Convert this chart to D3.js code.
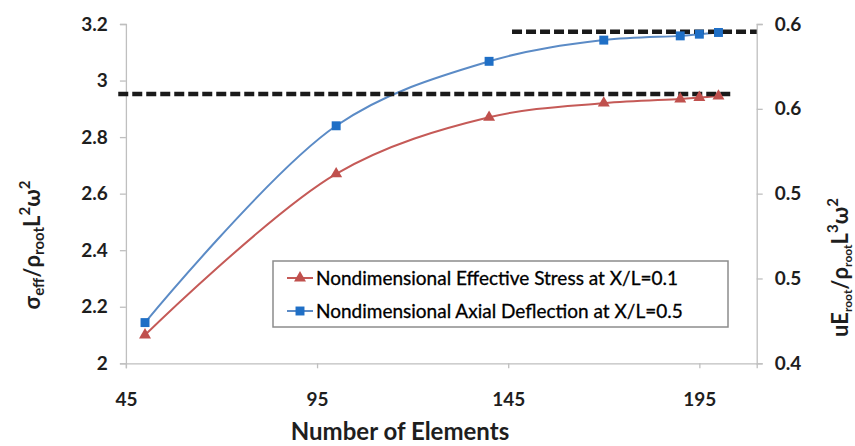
<!DOCTYPE html>
<html>
<head>
<meta charset="utf-8">
<script src="https://cdn.jsdelivr.net/npm/d3@7"></script>
<style>
  html, body { margin: 0; padding: 0; background: #fff; overflow: hidden; }
  svg { display: block; }
  text { font-family: Lato, "Open Sans", sans-serif; }
</style>
</head>
<body>
<svg id="chart" width="855" height="446"></svg>
<script>
// ---------- data ----------
const elementCounts = [50, 100, 140, 170, 190, 195, 200];
const stressValues = [2.10, 2.67, 2.87, 2.92, 2.935, 2.94, 2.945];
const deflectionValues = [0.424, 0.540, 0.578, 0.5905, 0.593, 0.594, 0.595];
const seriesNames = [
  "Nondimensional Effective Stress at X/L=0.1",
  "Nondimensional Axial Deflection at X/L=0.5"
];
const xTickValues = [45, 95, 145, 195];
const leftTickValues = [2, 2.2, 2.4, 2.6, 2.8, 3, 3.2];
const leftTickLabels = ["2", "2.2", "2.4", "2.6", "2.8", "3", "3.2"];
const rightTickValues = [0.4, 0.45, 0.5, 0.55, 0.6];
const rightTickLabels = ["0.4", "0.5", "0.5", "0.6", "0.6"];
const stressReference = 2.952;       // converged stress (left axis)
const stressReferenceSpan = [43, 204];
const deflectionReference = 0.5955;  // converged deflection (right axis)
const deflectionReferenceSpan = [146, 210];
const xAxisTitle = "Number of Elements";

// ---------- layout ----------
const svg = d3.select("#chart");
const plot = { left: 125.9, right: 756.7, top: 24, bottom: 363.3 };
const x = d3.scaleLinear().domain([45, 210]).range([plot.left, plot.right]);
const yL = d3.scaleLinear().domain([2, 3.2]).range([plot.bottom, plot.top]);
const yR = d3.scaleLinear().domain([0.4, 0.6]).range([plot.bottom, plot.top]);

const red = "#C0504D", redLine = "#C55A57";
const blueLine = "#5B8BC6", blueMark = "#1F6FC6";
const axisGray = "#BFBFBF";
const txt = "#1e1e1e";

// axes
function styleAxis(g) {
  g.select(".domain").attr("stroke", axisGray).attr("stroke-width", 1.3);
  g.selectAll(".tick line").attr("stroke", axisGray).attr("stroke-width", 1.3);
  g.selectAll(".tick text").attr("fill", txt).attr("font-size", 19).attr("font-weight", 700);
}
svg.append("g").attr("transform", `translate(0,${plot.bottom})`)
  .call(d3.axisBottom(x).tickValues(xTickValues).tickSizeOuter(0).tickSize(5).tickPadding(24).tickFormat(d3.format("d")))
  .call(styleAxis);
svg.append("g").attr("transform", `translate(${plot.left},0)`)
  .call(d3.axisLeft(yL).tickValues(leftTickValues).tickSizeOuter(0).tickSize(6).tickPadding(12)
    .tickFormat((d, i) => leftTickLabels[i]))
  .call(styleAxis);
svg.append("g").attr("transform", `translate(${plot.right},0)`)
  .call(d3.axisRight(yR).tickValues(rightTickValues).tickSizeOuter(0).tickSize(6).tickPadding(12)
    .tickFormat((d, i) => rightTickLabels[i]))
  .call(styleAxis);

// series lines
const curve = d3.curveCatmullRom.alpha(0.5);
const stressLine = d3.line().x((d, i) => x(elementCounts[i])).y(d => yL(d)).curve(curve);
const deflLine = d3.line().x((d, i) => x(elementCounts[i])).y(d => yR(d)).curve(curve);
svg.append("path").attr("d", stressLine(stressValues)).attr("fill", "none")
  .attr("stroke", redLine).attr("stroke-width", 2);
svg.append("path").attr("d", deflLine(deflectionValues)).attr("fill", "none")
  .attr("stroke", blueLine).attr("stroke-width", 2);

// reference dashed lines
const dash = { stroke: "#1a1a1a", w: 4.5, pattern: "10,4" };
svg.append("line")
  .attr("x1", x(stressReferenceSpan[0])).attr("x2", x(stressReferenceSpan[1]))
  .attr("y1", yL(stressReference)).attr("y2", yL(stressReference))
  .attr("stroke", dash.stroke).attr("stroke-width", dash.w).attr("stroke-dasharray", dash.pattern);
svg.append("line")
  .attr("x1", x(deflectionReferenceSpan[0])).attr("x2", x(deflectionReferenceSpan[1]))
  .attr("y1", yR(deflectionReference)).attr("y2", yR(deflectionReference))
  .attr("stroke", dash.stroke).attr("stroke-width", dash.w).attr("stroke-dasharray", dash.pattern);

// markers
const tri = d3.symbol().type(d3.symbolTriangle).size(62);
const sq = d3.symbol().type(d3.symbolSquare).size(80);
svg.append("g").selectAll("path").data(stressValues).join("path")
  .attr("d", tri).attr("fill", red)
  .attr("transform", (d, i) => `translate(${x(elementCounts[i])},${yL(d)})`);
svg.append("g").selectAll("path").data(deflectionValues).join("path")
  .attr("d", sq).attr("fill", blueMark)
  .attr("transform", (d, i) => `translate(${x(elementCounts[i])},${yR(d)})`);

// legend
const lg = svg.append("g");
lg.append("rect").attr("x", 273).attr("y", 261).attr("width", 455).attr("height", 66)
  .attr("fill", "#fff").attr("stroke", "#8C8C8C").attr("stroke-width", 1.5);
const rows = [
  { name: seriesNames[0], color: redLine, mark: red, sym: tri, y: 278 },
  { name: seriesNames[1], color: blueLine, mark: blueMark, sym: sq, y: 311 }
];
rows.forEach(r => {
  lg.append("line").attr("x1", 287).attr("x2", 313).attr("y1", r.y).attr("y2", r.y)
    .attr("stroke", r.color).attr("stroke-width", 2);
  lg.append("path").attr("d", r.sym).attr("fill", r.mark).attr("transform", `translate(300,${r.y})`);
  lg.append("text").attr("x", 316).attr("y", r.y).attr("dy", "0.35em")
    .attr("font-size", 19).attr("fill", "#000").attr("stroke", "#000").attr("stroke-width", 0.3)
    .text(r.name);
});

// axis titles
svg.append("text").attr("x", 400).attr("y", 440).attr("text-anchor", "middle")
  .attr("font-size", 24).attr("font-weight", 700).attr("fill", txt).text(xAxisTitle);

function richLabel(g, parts, subSize) {
  const t = g.append("text").attr("font-size", 22).attr("font-weight", 700).attr("fill", txt);
  parts.forEach(p => {
    const s = t.append("tspan").text(p.t);
    if (p.sub) s.attr("font-size", subSize).attr("dy", 4);
    else if (p.sup) s.attr("font-size", 15).attr("dy", -10);
    if (p.reset) s.attr("dy", p.reset);
  });
  return t;
}
// left title: σ_eff/ρ_root L^2 ω^2
const lt = svg.append("g").attr("transform", "translate(40,245) rotate(-90)");
richLabel(lt, [
  { t: "σ" }, { t: "eff", sub: true }, { t: "/ρ", reset: -4 }, { t: "root", sub: true },
  { t: "L", reset: -4 }, { t: "2", sup: true }, { t: "ω", reset: 10 }, { t: "2", sup: true }
], 15).attr("text-anchor", "middle");
// right title: uE_root/ρ_root L^3 ω^2
const rt = svg.append("g").attr("transform", "translate(848,337) rotate(-90)");
richLabel(rt, [
  { t: "uE" }, { t: "root", sub: true }, { t: "/ρ", reset: -4 }, { t: "root", sub: true },
  { t: "L", reset: -4 }, { t: "3", sup: true }, { t: "ω", reset: 10 }, { t: "2", sup: true }
], 12);
</script>
</body>
</html>
